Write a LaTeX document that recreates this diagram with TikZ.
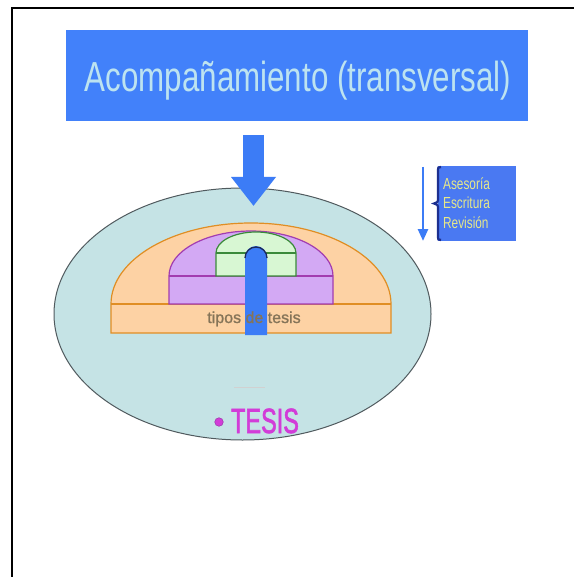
\documentclass[tikz,border=0pt]{standalone}
\usepackage{fontspec}
\newfontfamily\arial{Liberation Sans}
\newfontfamily\arialfb[FakeBold=1.2]{Liberation Sans}
\newfontfamily\arialfbb[FakeBold=2]{Liberation Sans}
\usetikzlibrary{shapes.geometric,arrows.meta}
\definecolor{titleblue}{HTML}{4281FA}
\definecolor{titletext}{HTML}{BDE3F0}
\definecolor{ovalfill}{HTML}{C5E3E5}
\definecolor{ovaldraw}{HTML}{505A5E}
\definecolor{orfill}{HTML}{FDD2A4}
\definecolor{ordraw}{HTML}{E08E24}
\definecolor{pufill}{HTML}{D3A9F4}
\definecolor{pudraw}{HTML}{A23CB0}
\definecolor{grfill}{HTML}{D8F7D3}
\definecolor{grdraw}{HTML}{3A8A3A}
\definecolor{barblue}{HTML}{3C7CF6}
\definecolor{bardark}{HTML}{1C2A5C}
\definecolor{sideblue}{HTML}{4A79F2}
\definecolor{bracedark}{HTML}{1C2F8F}
\definecolor{sidetext}{HTML}{E6E88A}
\definecolor{tesistext}{HTML}{D23CD8}
\definecolor{tipostext}{HTML}{857458}
\begin{document}
\begin{tikzpicture}[x=1pt,y=-1pt,
  layer/.style={line width=1.2pt},
  bigarrow/.style={draw=barblue,line width=21pt,-{Triangle[width=43pt,length=29pt]}},
  smallarrow/.style={draw=barblue,line width=2.6pt,-{Triangle[width=10pt,length=12pt]}},
  txt/.style={inner sep=0pt,font=\arial}]
\useasboundingbox (0,0) rectangle (574,577);
\fill[white] (0,0) rectangle (574,577);
\draw[line width=2pt] (12,577) -- (12,8) -- (574,8);

% title
\node[fill=titleblue,minimum width=462pt,minimum height=91pt,inner sep=0pt] (title) at (297,75.5) {};
\node[txt,anchor=base,xscale=0.745,text=titletext,font=\arial\fontsize{42}{42}\selectfont] (titletxt) at (298,92) {Acompañamiento (transversal)};

% oval
\node[ellipse,draw=ovaldraw,fill=ovalfill,line width=1pt,minimum width=377pt,minimum height=252pt,inner sep=0pt] (oval) at (242.5,314) {};

% big arrow
\coordinate (arrS) at (253.5,135);
\coordinate (arrE) at (253.5,206);
\draw[bigarrow] (arrS) -- (arrE);

% orange layer
\filldraw[layer,draw=ordraw,fill=orfill] (111,333) -- (111,304) arc[start angle=180,end angle=0,x radius=140pt,y radius=81pt] -- (391,333) -- cycle;
\draw[layer,draw=ordraw] (111,304) -- (391,304);
% purple layer
\filldraw[layer,draw=pudraw,fill=pufill] (169,304) -- (169,276) arc[start angle=180,end angle=0,x radius=82pt,y radius=45pt] -- (333,304) -- cycle;
\draw[layer,draw=pudraw] (169,276) -- (333,276);
% green layer
\filldraw[layer,draw=grdraw,fill=grfill] (216,276) -- (216,253) arc[start angle=180,end angle=0,x radius=40pt,y radius=21pt] -- (296,276) -- cycle;
\draw[layer,draw=grdraw] (216,253) -- (296,253);
% blue bar
\fill[barblue] (245,335) -- (245,257) arc[start angle=180,end angle=0,radius=11pt] -- (267,335) -- cycle;
\draw[bardark,line width=1.3pt] (245,258) arc[start angle=180,end angle=0,radius=11pt];

\node[txt,anchor=base,text=tipostext,font=\arialfb\fontsize{16}{16}\selectfont] (tipos) at (254,323) {tipos de tesis};

% faint line and TESIS
\draw[color=black!18,line width=0.6pt] (234,387) -- (265,387);
\node[circle,fill=tesistext,draw=pudraw,line width=0.6pt,minimum size=8.5pt,inner sep=0pt] (bullet) at (219,422) {};
\node[txt,anchor=base west,xscale=0.67,text=tesistext,font=\arialfbb\fontsize{35}{35}\selectfont] (tesis) at (231,433) {TESIS};

% side box
\coordinate (sS) at (423,167);
\coordinate (sE) at (423,241);
\draw[smallarrow] (sS) -- (sE);
\node[fill=sideblue,minimum width=78pt,minimum height=75pt,inner sep=0pt] (side) at (477,203.5) {};
\draw[bracedark,line width=2.2pt] (441,167) .. controls (438,167) .. (438,172) -- (438,198) .. controls (438,202) .. (434,203.5) .. controls (438,205) .. (438,209) -- (438,235) .. controls (438,240) .. (441,240);
\node[txt,anchor=base west,xscale=0.74,align=left,text=sidetext,font=\arial\fontsize{16}{19.5}\selectfont] (sidetxt) at (443,228) {Asesoría\\Escritura\\Revisión};
\end{tikzpicture}
\end{document}
